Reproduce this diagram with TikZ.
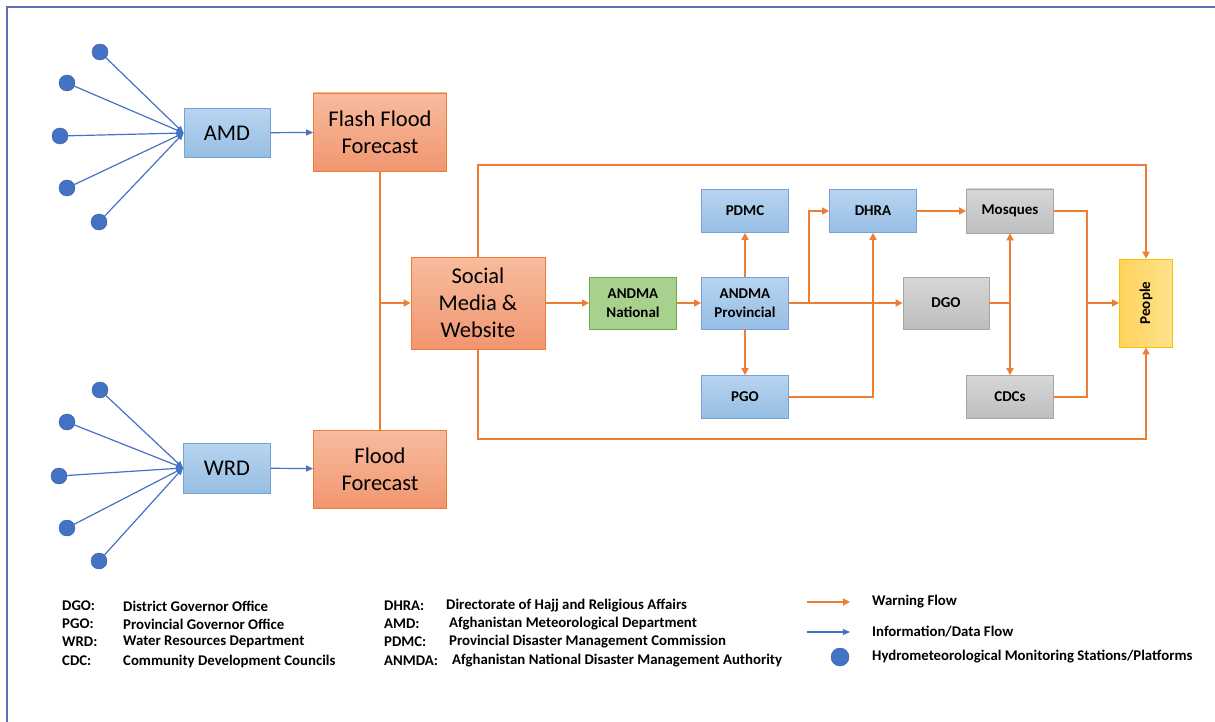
\documentclass[tikz,border=0pt]{standalone}
\usepackage{fontspec}
\setmainfont{Carlito}
\usetikzlibrary{arrows.meta}

\definecolor{framecol}{RGB}{98,108,180}
\definecolor{infocol}{RGB}{68,114,196}
\definecolor{warncol}{RGB}{237,125,49}
\definecolor{blueL}{RGB}{184,212,240}
\definecolor{blueD}{RGB}{150,190,228}
\definecolor{blueB}{RGB}{120,160,210}
\definecolor{orangeL}{RGB}{247,188,158}
\definecolor{orangeD}{RGB}{241,150,112}
\definecolor{greenF}{RGB}{169,209,142}
\definecolor{greenB}{RGB}{112,173,71}
\definecolor{grayL}{RGB}{215,215,215}
\definecolor{grayD}{RGB}{190,190,190}
\definecolor{grayB}{RGB}{165,165,165}
\definecolor{goldL}{RGB}{255,226,140}
\definecolor{goldD}{RGB}{255,210,90}
\definecolor{goldB}{RGB}{255,192,0}

\begin{document}
\begin{tikzpicture}[x=1pt, y=-1pt,
  box/.style={draw, line width=0.8pt, inner sep=0pt, align=center},
  bigbox/.style={box, font=\fontsize{22.5}{27}\selectfont},
  smallbox/.style={box, font=\fontsize{15}{18.5}\selectfont\bfseries},
  bluebox/.style={draw=blueB, top color=blueL, bottom color=blueD},
  orangebox/.style={draw=warncol, top color=orangeL, bottom color=orangeD},
  greenbox/.style={draw=greenB, fill=greenF},
  graybox/.style={draw=grayB, top color=grayL, bottom color=grayD},
  goldbox/.style={draw=goldB, left color=goldD, right color=goldL},
  station/.style={circle, fill=infocol, draw=infocol!80!black, line width=0.4pt, minimum size=16pt, inner sep=0pt},
  info/.style={draw=infocol, line width=1.2pt, -{Triangle[length=7pt,width=6pt]}},
  warn/.style={draw=warncol, line width=1.6pt},
  warnto/.style={warn, -{Triangle[length=7pt,width=7pt]}},
  legtext/.style={anchor=west, inner sep=0pt, font=\fontsize{14.8}{16}\selectfont\bfseries}]
\useasboundingbox (0,0) rectangle (1215,722);

% frame
\draw[framecol, line width=2.5pt] (7,722) -- (7,7) -- (1215,7);

% sources
\node[bigbox, bluebox, minimum width=86pt, minimum height=49pt] (amd) at (227,133) {AMD};
\node[bigbox, bluebox, minimum width=87pt, minimum height=50pt] (wrd) at (227,468) {WRD};
\node[bigbox, orangebox, minimum width=133pt, minimum height=78pt] (fff) at (380,132) {Flash Flood\\Forecast};
\node[bigbox, orangebox, minimum width=133pt, minimum height=78pt] (ff) at (380,469) {Flood\\Forecast};
\node[bigbox, orangebox, minimum width=134pt, minimum height=92pt] (social) at (478,303) {Social\\Media \&\\Website};

% monitoring stations
\foreach \i/\x/\y in {1/100/52, 2/67/83, 3/60/136, 4/67/188, 5/99/222} {
  \node[station] (a\i) at (\x,\y) {};
  \draw[info] (a\i) -- (amd.west);
}
\foreach \i/\x/\y in {1/100/390, 2/67/422, 3/59/476, 4/67/528, 5/99/561} {
  \node[station] (w\i) at (\x,\y) {};
  \draw[info] (w\i) -- (wrd.west);
}

% warning chain
\node[smallbox, greenbox, minimum width=87pt, minimum height=52pt] (national) at (633,303) {ANDMA\\National};
\node[smallbox, bluebox, minimum width=87pt, minimum height=52pt] (prov) at (745,303) {ANDMA\\Provincial};
\node[smallbox, bluebox, minimum width=87pt, minimum height=43pt] (pdmc) at (745,211) {PDMC};
\node[smallbox, bluebox, minimum width=87pt, minimum height=43pt] (pgo) at (745,397) {PGO};
\node[smallbox, bluebox, minimum width=87pt, minimum height=43pt] (dhra) at (873,211) {DHRA};
\node[smallbox, graybox, minimum width=86pt, minimum height=52pt] (dgo) at (946,303) {DGO};
\node[smallbox, graybox, minimum width=87pt, minimum height=44pt] (mosq) at (1010,211) {Mosques};
\node[smallbox, graybox, minimum width=87pt, minimum height=43pt] (cdcs) at (1010,397) {CDCs};
\node[smallbox, goldbox, minimum width=53pt, minimum height=88pt] (people) at (1146,303) {\rotatebox{90}{People}};

\coordinate (topy) at (0,165);
\coordinate (boty) at (0,439);
\coordinate (split) at (809,303);
\coordinate (dj) at (1010,303);
\coordinate (pj) at (1087,303);

\draw[info] (amd) -- (fff);
\draw[info] (wrd) -- (ff);
\draw[warn] (fff.south) -- (ff.north);
\draw[warnto] (fff.south |- social.west) -- (social.west);
\draw[warnto] (social.north) -- (social.north |- topy) -| (people.north);
\draw[warnto] (social.south) -- (social.south |- boty) -| (people.south);
\draw[warnto] (social) -- (national);
\draw[warnto] (national) -- (prov);
\draw[warnto] (prov) -- (pdmc);
\draw[warnto] (prov) -- (pgo);
\draw[warnto] (prov) -- (dgo);
\draw[warnto] (split) |- (dhra.west);
\draw[warnto] (pgo.east) -| (dhra.south);
\draw[warnto] (dhra) -- (mosq);
\draw[warn] (dgo.east) -- (dj);
\draw[warnto] (dj) -- (mosq.south);
\draw[warnto] (dj) -- (cdcs.north);
\draw[warn] (mosq.east) -| (pj);
\draw[warn] (cdcs.east) -| (pj);
\draw[warnto] (pj) -- (people.west);

% legend
\foreach \y/\ab/\full in {606/DGO:/District Governor Office, 624/PGO:/Provincial Governor Office,
    642/WRD:/Water Resources Department, 661/CDC:/Community Development Councils} {
  \node[legtext] at (62,\y) {\ab};
  \node[legtext] at (123,\y) {\full};
}
\foreach \y/\x/\ab/\full in {606/446/DHRA:/Directorate of Hajj and Religious Affairs, 624/449/AMD:/Afghanistan Meteorological Department,
    642/449/PDMC:/Provincial Disaster Management Commission, 661/452/ANMDA:/Afghanistan National Disaster Management Authority} {
  \node[legtext] at (384,\y) {\ab};
  \node[legtext] at (\x,\y) {\full};
}
\coordinate (lw0) at (807,602);
\coordinate (lw1) at (850,602);
\coordinate (li0) at (807,632);
\coordinate (li1) at (850,632);
\draw[warnto] (lw0) -- (lw1);
\draw[info] (li0) -- (li1);
\node[station, minimum size=18pt] (lst) at (840,657) {};
\node[legtext] (lwarn) at (872,602) {Warning Flow};
\node[legtext] (linfo) at (872,632) {Information/Data Flow};
\node[legtext] (lhydro) at (872,657) {Hydrometeorological Monitoring Stations/Platforms};
\end{tikzpicture}
\end{document}
